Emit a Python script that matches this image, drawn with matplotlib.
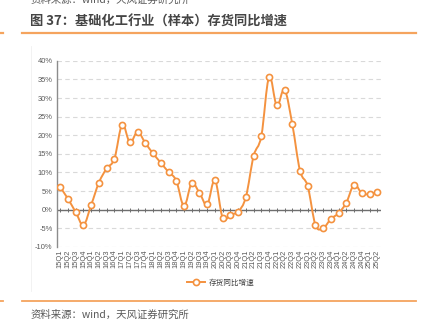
import numpy as np
import matplotlib
matplotlib.use("Agg")
import matplotlib.pyplot as plt
from matplotlib.path import Path
from matplotlib.patches import PathPatch
from matplotlib.lines import Line2D

plt.rcParams['font.family'] = ['Noto Sans CJK SC', 'DejaVu Sans']

quarters = [f"{y}Q{q}" for y in range(15, 26) for q in range(1, 5)][:42]
inventory_yoy = [6.0, 2.9, -0.7, -4.1, 1.3, 7.3, 11.1, 13.7,
                 22.8, 18.1, 20.9, 17.9, 15.1, 12.6, 10.1, 7.8,
                 1.0, 7.1, 4.5, 1.4, 7.9, -2.2, -1.3, -0.5,
                 3.4, 14.4, 19.8, 35.6, 28.0, 32.2, 23.0, 10.5,
                 6.3, -4.1, -4.9, -2.5, -0.9, 1.9, 6.7, 4.4,
                 4.2, 4.8]
series_name = "存货同比增速"
title_text = "图 37：基础化工行业（样本）存货同比增速"
source_text = "资料来源：wind，天风证券研究所"

ORANGE = "#F4923F"
RULE = "#F5A45E"
TXT = "#595959"

fig = plt.figure(figsize=(4.24, 3.27), dpi=100)
ax = fig.add_axes([0.134, 0.245, 0.765, 0.569])

x = np.arange(len(inventory_yoy), dtype=float)
y = np.asarray(inventory_yoy, dtype=float)

# smooth curve through the points (Catmull-Rom as cubic Bezier segments)
verts = [(x[0], y[0])]
codes = [Path.MOVETO]
t = 0.18
for i in range(len(x) - 1):
    p0 = (x[i - 1], y[i - 1]) if i > 0 else (x[i], y[i])
    p1 = (x[i], y[i])
    p2 = (x[i + 1], y[i + 1])
    p3 = (x[i + 2], y[i + 2]) if i + 2 < len(x) else (x[i + 1], y[i + 1])
    c1 = (p1[0] + (p2[0] - p0[0]) * t, p1[1] + (p2[1] - p0[1]) * t)
    c2 = (p2[0] - (p3[0] - p1[0]) * t, p2[1] - (p3[1] - p1[1]) * t)
    verts += [c1, c2, p2]
    codes += [Path.CURVE4] * 3
ax.add_patch(PathPatch(Path(verts, codes), facecolor='none', edgecolor=ORANGE,
                       lw=1.4, zorder=3))
ax.plot(x, y, linestyle='none', marker='o', ms=4.4, mfc='white', mec=ORANGE,
        mew=1.2, zorder=4)

ax.set_xlim(-0.45, len(x) - 0.5)
ax.set_ylim(-10, 40)
ax.set_yticks(np.arange(-10, 41, 5))
ax.set_yticklabels([f"{v}%" for v in range(-10, 41, 5)], fontsize=5.4,
                   color=TXT, family=['Liberation Sans', 'DejaVu Sans'])
ax.set_xticks(x)
ax.set_xticklabels(quarters, rotation=90, fontsize=5.4, color=TXT,
                   family=['Liberation Sans', 'DejaVu Sans'])
ax.tick_params(axis='both', length=0, pad=2)
ax.tick_params(axis='y', pad=3)

ax.grid(axis='y', color='#D9D9D9', linestyle=(0, (4, 3)), lw=0.8)
ax.set_axisbelow(True)
for s in ['top', 'right', 'bottom']:
    ax.spines[s].set_visible(False)
ax.spines['left'].set_color('#8C8C8C')
ax.spines['left'].set_linewidth(1.0)

ax.axhline(0, color='#6E6E6E', lw=1.0, zorder=2)
ax.vlines(x, -0.5, 0.5, color='#6E6E6E', lw=0.7, zorder=2)

handle = Line2D([], [], color=ORANGE, lw=1.4, marker='o', ms=4.4, mfc='white',
                mec=ORANGE, mew=1.2)
fig.legend([handle], [series_name], loc='center', bbox_to_anchor=(0.52, 0.135),
           frameon=False, fontsize=5.5, handlelength=2.4, handletextpad=0.4,
           labelcolor='#404040')

# header and footer
fig.text(0.071, 0.933, title_text, fontsize=9.5, fontweight='bold',
         color='#454545', va='center')
fig.text(0.071, 1.0, source_text, fontsize=7.5, color=TXT, va='center')
fig.add_artist(Line2D([0.052, 0.98], [0.898, 0.898], color=RULE, lw=1.6))
fig.add_artist(Line2D([0.0, 0.007], [0.898, 0.898], color=RULE, lw=1.6))
fig.add_artist(Line2D([0.052, 0.98], [0.078, 0.078], color=RULE, lw=1.3))
fig.add_artist(Line2D([0.0, 0.007], [0.078, 0.078], color=RULE, lw=1.3))
fig.add_artist(Line2D([0.073, 0.073], [0.11, 0.86], color='#F0F0F0', lw=0.6))
fig.text(0.071, 0.038, source_text, fontsize=7.5, color=TXT, va='center')

fig.savefig("out.png", dpi=100)
